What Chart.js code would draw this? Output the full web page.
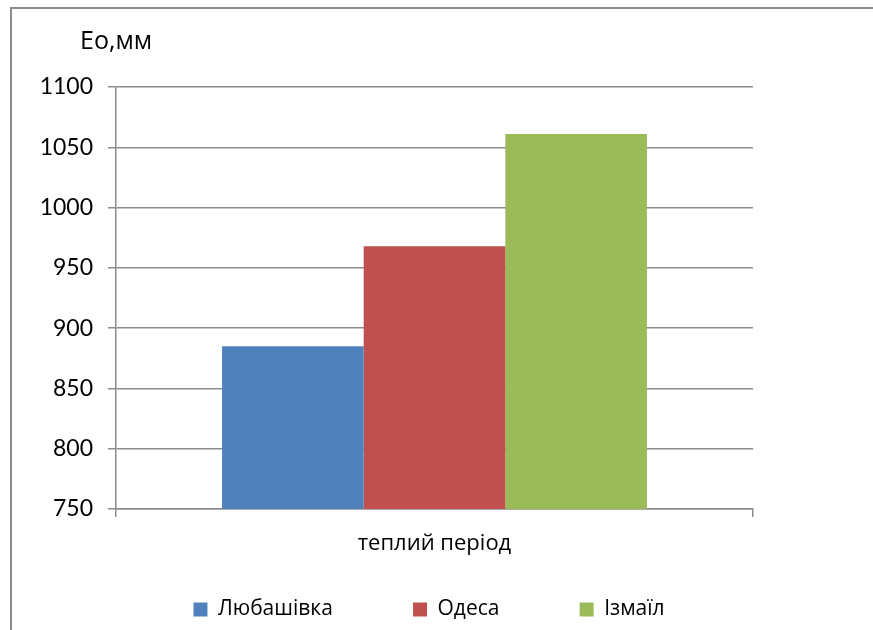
<!DOCTYPE html>
<html>
<head>
<meta charset="utf-8">
<script src="https://cdn.jsdelivr.net/npm/chart.js@4/dist/chart.umd.min.js"></script>
<style>
  html, body { margin: 0; padding: 0; background: #fff; }
  canvas { display: block; }
</style>
</head>
<body>
<canvas id="c" width="873" height="630"></canvas>
<script>
// Categories, series and axis settings
const categories = ['теплий період'];
const stations = ['Любашівка', 'Одеса', 'Ізмаїл'];
const evaporation = [885, 968, 1061];
const colors = ['#4f81bd', '#c0504d', '#9bbb59'];
const axisTitle = 'Eo,мм';
const yMin = 750, yMax = 1100, yStep = 50;

const NUM_FONT = 'Lato, "Open Sans", sans-serif';
const TXT_FONT = '"Open Sans", Lato, sans-serif';
const GRID = '#8c8c8c';
const LEGEND_GAP = '\u00A0'.repeat(7);

// Outer frame and unit label
const decor = {
  id: 'decor',
  beforeDraw(chart) {
    const ctx = chart.ctx;
    ctx.save();
    ctx.strokeStyle = '#8c8c8c';
    ctx.lineWidth = 2;
    ctx.beginPath();
    ctx.moveTo(11, 640);
    ctx.lineTo(11, 8);
    ctx.lineTo(880, 8);
    ctx.stroke();
    ctx.fillStyle = '#000';
    ctx.font = '25px ' + TXT_FONT;
    ctx.textBaseline = 'alphabetic';
    ctx.textAlign = 'left';
    ctx.fillText(axisTitle, 80, 49);
    ctx.restore();
  }
};

new Chart(document.getElementById('c'), {
  type: 'bar',
  data: {
    labels: categories,
    datasets: stations.map((name, i) => ({
      label: name,
      data: [evaporation[i]],
      backgroundColor: colors[i],
      borderWidth: 0,
      categoryPercentage: 0.667,
      barPercentage: 1
    }))
  },
  options: {
    responsive: false,
    animation: false,
    layout: { padding: { top: 87, right: 15, left: 0, bottom: 0 } },
    plugins: {
      title: { display: false },
      tooltip: { enabled: false },
      legend: {
        display: true,
        position: 'bottom',
        labels: {
          boxWidth: 14,
          boxHeight: 14,
          padding: 42,
          color: '#000',
          font: { family: TXT_FONT, size: 21 },
          // wider spacing between the legend entries
          generateLabels(chart) {
            const items = Chart.defaults.plugins.legend.labels.generateLabels(chart);
            items.forEach((it, i) => {
              if (i < items.length - 1) it.text = it.text + LEGEND_GAP;
            });
            return items;
          }
        }
      }
    },
    scales: {
      x: {
        afterFit(scale) { scale.height = 48; },
        grid: {
          display: true,
          offset: true,
          drawOnChartArea: false,
          drawTicks: true,
          tickLength: 8,
          color: GRID,
          lineWidth: 1.5
        },
        border: { display: true, color: GRID, width: 1.5 },
        ticks: {
          color: '#000',
          padding: 14,
          font: { family: TXT_FONT, size: 22 }
        }
      },
      y: {
        min: yMin,
        max: yMax,
        afterFit(scale) { scale.width = 116; },
        ticks: {
          stepSize: yStep,
          color: '#000',
          padding: 15,
          font: { family: NUM_FONT, size: 23 },
          callback: (v) => String(v)
        },
        grid: {
          color: GRID,
          lineWidth: 1.5,
          drawTicks: true,
          tickLength: 8
        },
        border: { display: true, color: GRID, width: 1.5 }
      },
      // empty right margin beside the plot
      yRight: {
        type: 'linear',
        position: 'right',
        afterFit(scale) { scale.width = 105; },
        ticks: { display: false },
        grid: { display: false },
        border: { display: false }
      }
    }
  },
  plugins: [decor]
});
</script>
</body>
</html>
